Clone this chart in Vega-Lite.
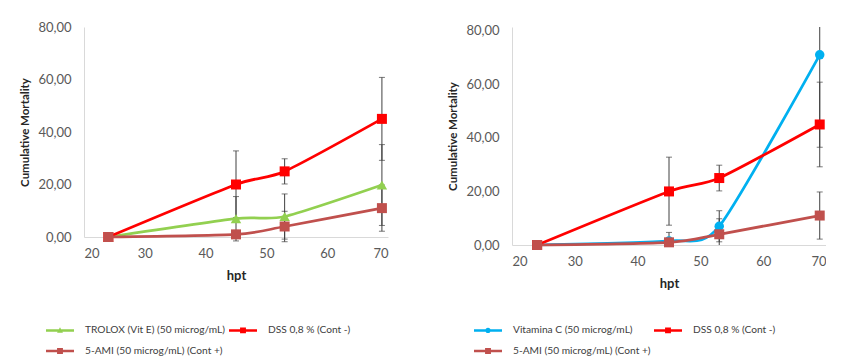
{
  "$schema": "https://vega.github.io/schema/vega-lite/v6.json",
  "background": "white",
  "padding": {"left": 19, "top": 21, "right": 0, "bottom": 0},
  "spacing": 59,
  "config": {
    "locale": {"number": {"decimal": ",", "thousands": ".", "grouping": [3], "currency": ["", " €"]}},
    "font": "Lato",
    "view": {"stroke": null},
    "axisX": {"grid": false, "ticks": false, "domainColor": "#D9D9D9", "domainWidth": 1, "labelPadding": 10, "titlePadding": 9, "labelFontSize": 13, "labelColor": "#595959", "labelFont": "Lato", "titleFont": "Lato", "titleFontSize": 13, "titleFontWeight": "bold", "titleColor": "#262626"},
    "axisY": {"grid": false, "ticks": false, "domainColor": "#D9D9D9", "domainWidth": 1, "labelPadding": 13, "minExtent": 47, "maxExtent": 47, "titlePadding": 7, "labelFontSize": 13, "labelColor": "#595959", "labelFont": "Lato", "titleFont": "Lato", "titleFontSize": 11.5, "titleFontWeight": "bold", "titleColor": "#262626"},
    "legend": {"orient": "none", "legendX": -38, "legendY": 296, "direction": "horizontal", "columns": 2, "title": null, "symbolSize": 196, "symbolStrokeWidth": 0, "symbolOffset": 7, "labelOffset": 18, "columnPadding": 3, "rowPadding": 8, "labelFont": "Lato", "labelFontSize": 10.2, "labelColor": "#404040", "labelLimit": 0, "symbolOpacity": 1}
  },
  "resolve": {"scale": {"color": "independent", "shape": "independent", "x": "independent", "y": "independent"}, "legend": {"color": "independent", "shape": "independent"}},
  "hconcat": [
    {
      "width": 304,
      "height": 210,
      "data": {"values": [
        {"series": "TROLOX (Vit E) (50 microg/mL)", "hpt": 24, "mort": 0, "lo": 0, "hi": 0},
        {"series": "TROLOX (Vit E) (50 microg/mL)", "hpt": 45, "mort": 7.0, "lo": -1.5, "hi": 15.4},
        {"series": "TROLOX (Vit E) (50 microg/mL)", "hpt": 53, "mort": 7.8, "lo": -0.8, "hi": 16.4},
        {"series": "TROLOX (Vit E) (50 microg/mL)", "hpt": 69, "mort": 19.8, "lo": 4.4, "hi": 35.2},
        {"series": "DSS 0,8 % (Cont -)", "hpt": 24, "mort": 0, "lo": 0, "hi": 0},
        {"series": "DSS 0,8 % (Cont -)", "hpt": 45, "mort": 20, "lo": 7.4, "hi": 32.8},
        {"series": "DSS 0,8 % (Cont -)", "hpt": 53, "mort": 25, "lo": 20.2, "hi": 29.8},
        {"series": "DSS 0,8 % (Cont -)", "hpt": 69, "mort": 45, "lo": 29.2, "hi": 60.8},
        {"series": "5-AMI (50 microg/mL) (Cont +)", "hpt": 24, "mort": 0, "lo": 0, "hi": 0},
        {"series": "5-AMI (50 microg/mL) (Cont +)", "hpt": 45, "mort": 1, "lo": -0.5, "hi": 2.5},
        {"series": "5-AMI (50 microg/mL) (Cont +)", "hpt": 53, "mort": 4, "lo": -1.8, "hi": 9.8},
        {"series": "5-AMI (50 microg/mL) (Cont +)", "hpt": 69, "mort": 11, "lo": 2.2, "hi": 19.8}
      ]},
      "encoding": {
        "x": {"field": "hpt", "type": "quantitative", "scale": {"domain": [20, 70], "nice": false, "zero": false}, "axis": {"title": "hpt", "values": [20, 30, 40, 50, 60, 70], "format": "d"}}
      },
      "layer": [
        {"mark": {"type": "rule", "color": "#404040", "strokeWidth": 1},
         "encoding": {"y": {"field": "lo", "type": "quantitative", "scale": {"domain": [0, 80], "nice": false}, "axis": {"title": "Cumulative Mortality", "values": [0, 20, 40, 60, 80], "format": ".2f"}}, "y2": {"field": "hi"}}},
        {"mark": {"type": "tick", "orient": "horizontal", "color": "#404040", "size": 6, "thickness": 1},
         "encoding": {"y": {"field": "lo", "type": "quantitative", "axis": {"title": "Cumulative Mortality", "values": [0, 20, 40, 60, 80], "format": ".2f"}}}},
        {"mark": {"type": "tick", "orient": "horizontal", "color": "#404040", "size": 6, "thickness": 1},
         "encoding": {"y": {"field": "hi", "type": "quantitative", "axis": {"title": "Cumulative Mortality", "values": [0, 20, 40, 60, 80], "format": ".2f"}}}},
        {"transform": [{"filter": "datum.series === 'TROLOX (Vit E) (50 microg/mL)'"}],
         "layer": [
           {"mark": {"type": "line", "interpolate": "cardinal", "tension": 0.3, "strokeWidth": 2.75, "color": "#92D050"}},
           {"mark": {"type": "point", "shape": "triangle-up", "filled": true, "opacity": 1, "size": 110, "color": "#92D050"}}
         ],
         "encoding": {"y": {"field": "mort", "type": "quantitative", "axis": {"title": "Cumulative Mortality", "values": [0, 20, 40, 60, 80], "format": ".2f"}}}},
        {"transform": [{"filter": "datum.series === 'DSS 0,8 % (Cont -)'"}],
         "layer": [
           {"mark": {"type": "line", "interpolate": "cardinal", "tension": 0.3, "strokeWidth": 2.75, "color": "#FF0000"}},
           {"mark": {"type": "point", "shape": "square", "filled": true, "opacity": 1, "size": 100, "color": "#FF0000"}}
         ],
         "encoding": {"y": {"field": "mort", "type": "quantitative", "axis": {"title": "Cumulative Mortality", "values": [0, 20, 40, 60, 80], "format": ".2f"}}}},
        {"transform": [{"filter": "datum.series === '5-AMI (50 microg/mL) (Cont +)'"}],
         "layer": [
           {"mark": {"type": "line", "interpolate": "cardinal", "tension": 0.3, "strokeWidth": 2.75, "color": "#C0504D"}},
           {"mark": {"type": "point", "shape": "square", "filled": true, "opacity": 1, "size": 100, "color": "#C0504D"}}
         ],
         "encoding": {"y": {"field": "mort", "type": "quantitative", "axis": {"title": "Cumulative Mortality", "values": [0, 20, 40, 60, 80], "format": ".2f"}}}},
        {"mark": {"type": "point", "filled": true, "opacity": 0},
         "encoding": {"y": {"field": "mort", "type": "quantitative", "axis": {"title": "Cumulative Mortality", "values": [0, 20, 40, 60, 80], "format": ".2f"}},
                      "color": {"field": "series", "type": "nominal", "scale": {"domain": ["TROLOX (Vit E) (50 microg/mL)", "DSS 0,8 % (Cont -)", "5-AMI (50 microg/mL) (Cont +)"], "range": ["#92D050", "#FF0000", "#C0504D"]}, "legend": {"encode": {"symbols": {"update": {"opacity": {"value": 1}}}}}},
                      "shape": {"field": "series", "type": "nominal", "scale": {"domain": ["TROLOX (Vit E) (50 microg/mL)", "DSS 0,8 % (Cont -)", "5-AMI (50 microg/mL) (Cont +)"], "range": ["M-2,-0.18H2V0.18H-2Z M0,-0.45L0.42,0.35L-0.42,0.35Z", "M-2,-0.18H2V0.18H-2Z M-0.42,-0.42H0.42V0.42H-0.42Z", "M-2,-0.18H2V0.18H-2Z M-0.42,-0.42H0.42V0.42H-0.42Z"]}, "legend": {"encode": {"symbols": {"update": {"opacity": {"value": 1}}}}}}}}
      ]
    },
    {
      "width": 314,
      "height": 218,
      "data": {"values": [
        {"series": "Vitamina C (50 microg/mL)", "hpt": 24, "mort": 0, "lo": 0, "hi": 0},
        {"series": "Vitamina C (50 microg/mL)", "hpt": 45, "mort": 1.5, "lo": -1.7, "hi": 4.7},
        {"series": "Vitamina C (50 microg/mL)", "hpt": 53, "mort": 7, "lo": 1.2, "hi": 12.8},
        {"series": "Vitamina C (50 microg/mL)", "hpt": 69, "mort": 71, "lo": 36.5, "hi": 105.5},
        {"series": "DSS 0,8 % (Cont -)", "hpt": 24, "mort": 0, "lo": 0, "hi": 0},
        {"series": "DSS 0,8 % (Cont -)", "hpt": 45, "mort": 20, "lo": 7.4, "hi": 32.8},
        {"series": "DSS 0,8 % (Cont -)", "hpt": 53, "mort": 25, "lo": 20.2, "hi": 29.8},
        {"series": "DSS 0,8 % (Cont -)", "hpt": 69, "mort": 45, "lo": 29.2, "hi": 60.8},
        {"series": "5-AMI (50 microg/mL) (Cont +)", "hpt": 24, "mort": 0, "lo": 0, "hi": 0},
        {"series": "5-AMI (50 microg/mL) (Cont +)", "hpt": 45, "mort": 1, "lo": -0.5, "hi": 2.5},
        {"series": "5-AMI (50 microg/mL) (Cont +)", "hpt": 53, "mort": 4, "lo": -1.8, "hi": 9.8},
        {"series": "5-AMI (50 microg/mL) (Cont +)", "hpt": 69, "mort": 11, "lo": 2.2, "hi": 19.8}
      ]},
      "encoding": {
        "x": {"field": "hpt", "type": "quantitative", "scale": {"domain": [20, 70], "nice": false, "zero": false}, "axis": {"title": "hpt", "values": [20, 30, 40, 50, 60, 70], "format": "d"}}
      },
      "layer": [
        {"mark": {"type": "rule", "color": "#404040", "strokeWidth": 1, "clip": true},
         "encoding": {"y": {"field": "lo", "type": "quantitative", "scale": {"domain": [0, 81.4], "nice": false}, "axis": {"title": "Cumulative Mortality", "values": [0, 20, 40, 60, 80], "format": ".2f"}}, "y2": {"field": "hi"}}},
        {"mark": {"type": "tick", "orient": "horizontal", "color": "#404040", "size": 6, "thickness": 1, "clip": true},
         "encoding": {"y": {"field": "lo", "type": "quantitative", "axis": {"title": "Cumulative Mortality", "values": [0, 20, 40, 60, 80], "format": ".2f"}}}},
        {"mark": {"type": "tick", "orient": "horizontal", "color": "#404040", "size": 6, "thickness": 1, "clip": true},
         "encoding": {"y": {"field": "hi", "type": "quantitative", "axis": {"title": "Cumulative Mortality", "values": [0, 20, 40, 60, 80], "format": ".2f"}}}},
        {"transform": [{"filter": "datum.series === 'Vitamina C (50 microg/mL)'"}],
         "layer": [
           {"mark": {"type": "line", "interpolate": "cardinal", "tension": 0.3, "strokeWidth": 2.75, "color": "#00B0F0"}},
           {"mark": {"type": "point", "shape": "circle", "filled": true, "opacity": 1, "size": 90, "color": "#00B0F0"}}
         ],
         "encoding": {"y": {"field": "mort", "type": "quantitative", "axis": {"title": "Cumulative Mortality", "values": [0, 20, 40, 60, 80], "format": ".2f"}}}},
        {"transform": [{"filter": "datum.series === 'DSS 0,8 % (Cont -)'"}],
         "layer": [
           {"mark": {"type": "line", "interpolate": "cardinal", "tension": 0.3, "strokeWidth": 2.75, "color": "#FF0000"}},
           {"mark": {"type": "point", "shape": "square", "filled": true, "opacity": 1, "size": 100, "color": "#FF0000"}}
         ],
         "encoding": {"y": {"field": "mort", "type": "quantitative", "axis": {"title": "Cumulative Mortality", "values": [0, 20, 40, 60, 80], "format": ".2f"}}}},
        {"transform": [{"filter": "datum.series === '5-AMI (50 microg/mL) (Cont +)'"}],
         "layer": [
           {"mark": {"type": "line", "interpolate": "cardinal", "tension": 0.3, "strokeWidth": 2.75, "color": "#C0504D"}},
           {"mark": {"type": "point", "shape": "square", "filled": true, "opacity": 1, "size": 100, "color": "#C0504D"}}
         ],
         "encoding": {"y": {"field": "mort", "type": "quantitative", "axis": {"title": "Cumulative Mortality", "values": [0, 20, 40, 60, 80], "format": ".2f"}}}},
        {"mark": {"type": "point", "filled": true, "opacity": 0},
         "encoding": {"y": {"field": "mort", "type": "quantitative", "axis": {"title": "Cumulative Mortality", "values": [0, 20, 40, 60, 80], "format": ".2f"}},
                      "color": {"field": "series", "type": "nominal", "scale": {"domain": ["Vitamina C (50 microg/mL)", "DSS 0,8 % (Cont -)", "5-AMI (50 microg/mL) (Cont +)"], "range": ["#00B0F0", "#FF0000", "#C0504D"]}, "legend": {"encode": {"symbols": {"update": {"opacity": {"value": 1}}}}}},
                      "shape": {"field": "series", "type": "nominal", "scale": {"domain": ["Vitamina C (50 microg/mL)", "DSS 0,8 % (Cont -)", "5-AMI (50 microg/mL) (Cont +)"], "range": ["M-2,-0.18H2V0.18H-2Z M-0.38,0A0.38,0.38 0 1,1 0.38,0A0.38,0.38 0 1,1 -0.38,0Z", "M-2,-0.18H2V0.18H-2Z M-0.42,-0.42H0.42V0.42H-0.42Z", "M-2,-0.18H2V0.18H-2Z M-0.42,-0.42H0.42V0.42H-0.42Z"]}, "legend": {"encode": {"symbols": {"update": {"opacity": {"value": 1}}}}}}}}
      ]
    }
  ]
}
